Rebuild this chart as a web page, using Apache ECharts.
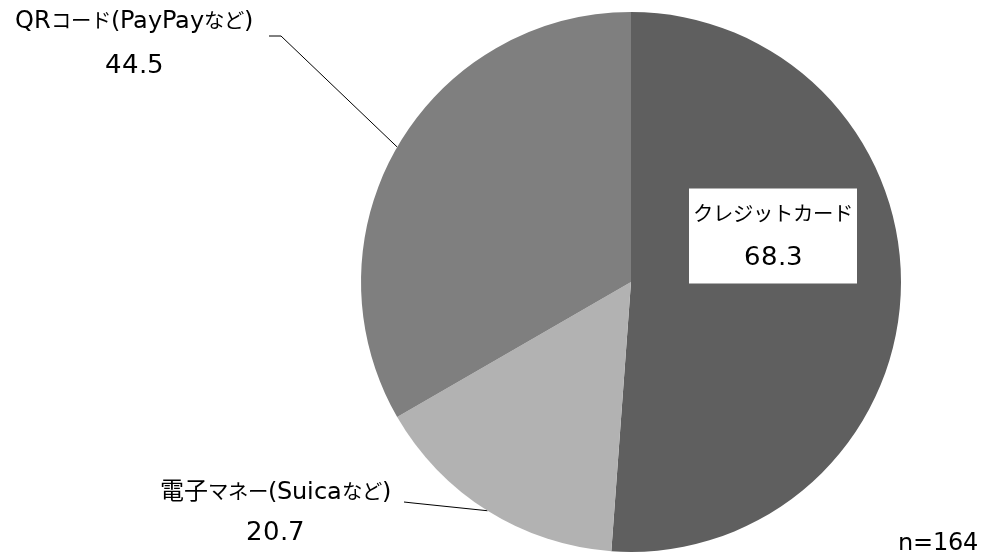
<!DOCTYPE html>
<html>
<head>
<meta charset="utf-8">
<script src="https://cdn.jsdelivr.net/npm/echarts@6/dist/echarts.min.js"></script>
<style>
@font-face { font-family: 'MixJP'; src: local('DejaVu Sans'), local('DejaVuSans'); unicode-range: U+0000-024F, U+2000-206F; }
@font-face { font-family: 'MixJP'; src: local('Noto Sans CJK JP Regular'), local('NotoSansCJKjp-Regular'), local('Noto Sans CJK JP'); unicode-range: U+3000-30FF, U+FF00-FFEF; size-adjust: 85%; }
@font-face { font-family: 'MixJP'; src: local('Noto Sans CJK JP Regular'), local('NotoSansCJKjp-Regular'), local('Noto Sans CJK JP'); unicode-range: U+4E00-9FFF; }
html,body{margin:0;padding:0;background:#fff;}
#chart{width:987px;height:555px;}
</style>
</head>
<body>
<div id="chart"></div>
<script>
const categories = ['クレジットカード', '電子マネー(Suicaなど)', 'QRコード(PayPayなど)'];
const values = [68.3, 20.7, 44.5];
const colors = ['#5f5f5f', '#b2b2b2', '#7f7f7f'];
const noteText = 'n=164';

const FONT = "MixJP, 'DejaVu Sans', 'Noto Sans CJK JP', sans-serif";

// label placement (style only)
const labelPos = [
  {x: 773, y: 236, lh: 44},
  {x: 275, y: 513, lh: 41},
  {x: 134, y: 44, lh: 44}
];

function draw() {
  const chart = echarts.init(document.getElementById('chart'), null, {renderer: 'canvas'});

  const data = categories.map((c, i) => {
    const lh = labelPos[i].lh;
    const item = {
      name: c,
      value: values[i],
      itemStyle: {color: colors[i]},
      label: {
        rich: {
          n: {fontSize: 24, fontFamily: FONT, color: '#000', lineHeight: lh, align: 'center'},
          v: {fontSize: 26, fontFamily: FONT, color: '#000', lineHeight: lh, align: 'center'}
        }
      }
    };
    if (i === 0) {
      item.label.backgroundColor = '#ffffff';
      item.label.padding = [4, 4, 3, 4];
      item.labelLine = {show: false};
    }
    return item;
  });

  chart.setOption({
    backgroundColor: '#ffffff',
    animation: false,
    series: [{
      type: 'pie',
      center: [631, 282],
      radius: 270,
      startAngle: 90,
      clockwise: true,
      avoidLabelOverlap: false,
      data: data,
      itemStyle: {borderWidth: 0},
      label: {
        show: true,
        position: 'outside',
        formatter: '{n|{b}}\n{v|{c}}',
        color: '#000'
      },
      labelLine: {
        show: true,
        length: 20,
        length2: 10,
        lineStyle: {color: '#000', width: 1}
      },
      emphasis: {disabled: true},
      labelLayout: function (params) {
        const i = params.dataIndex;
        const p = labelPos[i];
        const res = {x: p.x, y: p.y, align: 'center', verticalAlign: 'middle'};
        const pts = params.labelLinePoints;
        if (pts && pts.length) {
          const e = pts[0];
          if (i === 2) {
            res.labelLinePoints = [e, [281, 36], [269, 36]];
          } else if (i === 1) {
            res.labelLinePoints = [e, [413, 503], [404, 502]];
          }
        }
        return res;
      }
    }],
    graphic: [{
      type: 'text',
      x: 898,
      y: 544,
      style: {text: noteText, font: "24px " + FONT, fill: '#000', verticalAlign: 'middle', align: 'left'}
    }]
  });
}

if (document.fonts && document.fonts.load) {
  Promise.all([
    document.fonts.load("24px MixJP", "QRクレ電子Suica"),
    document.fonts.load("24px MixJP", "n=164")
  ]).then(draw, draw);
} else {
  draw();
}
</script>
</body>
</html>
